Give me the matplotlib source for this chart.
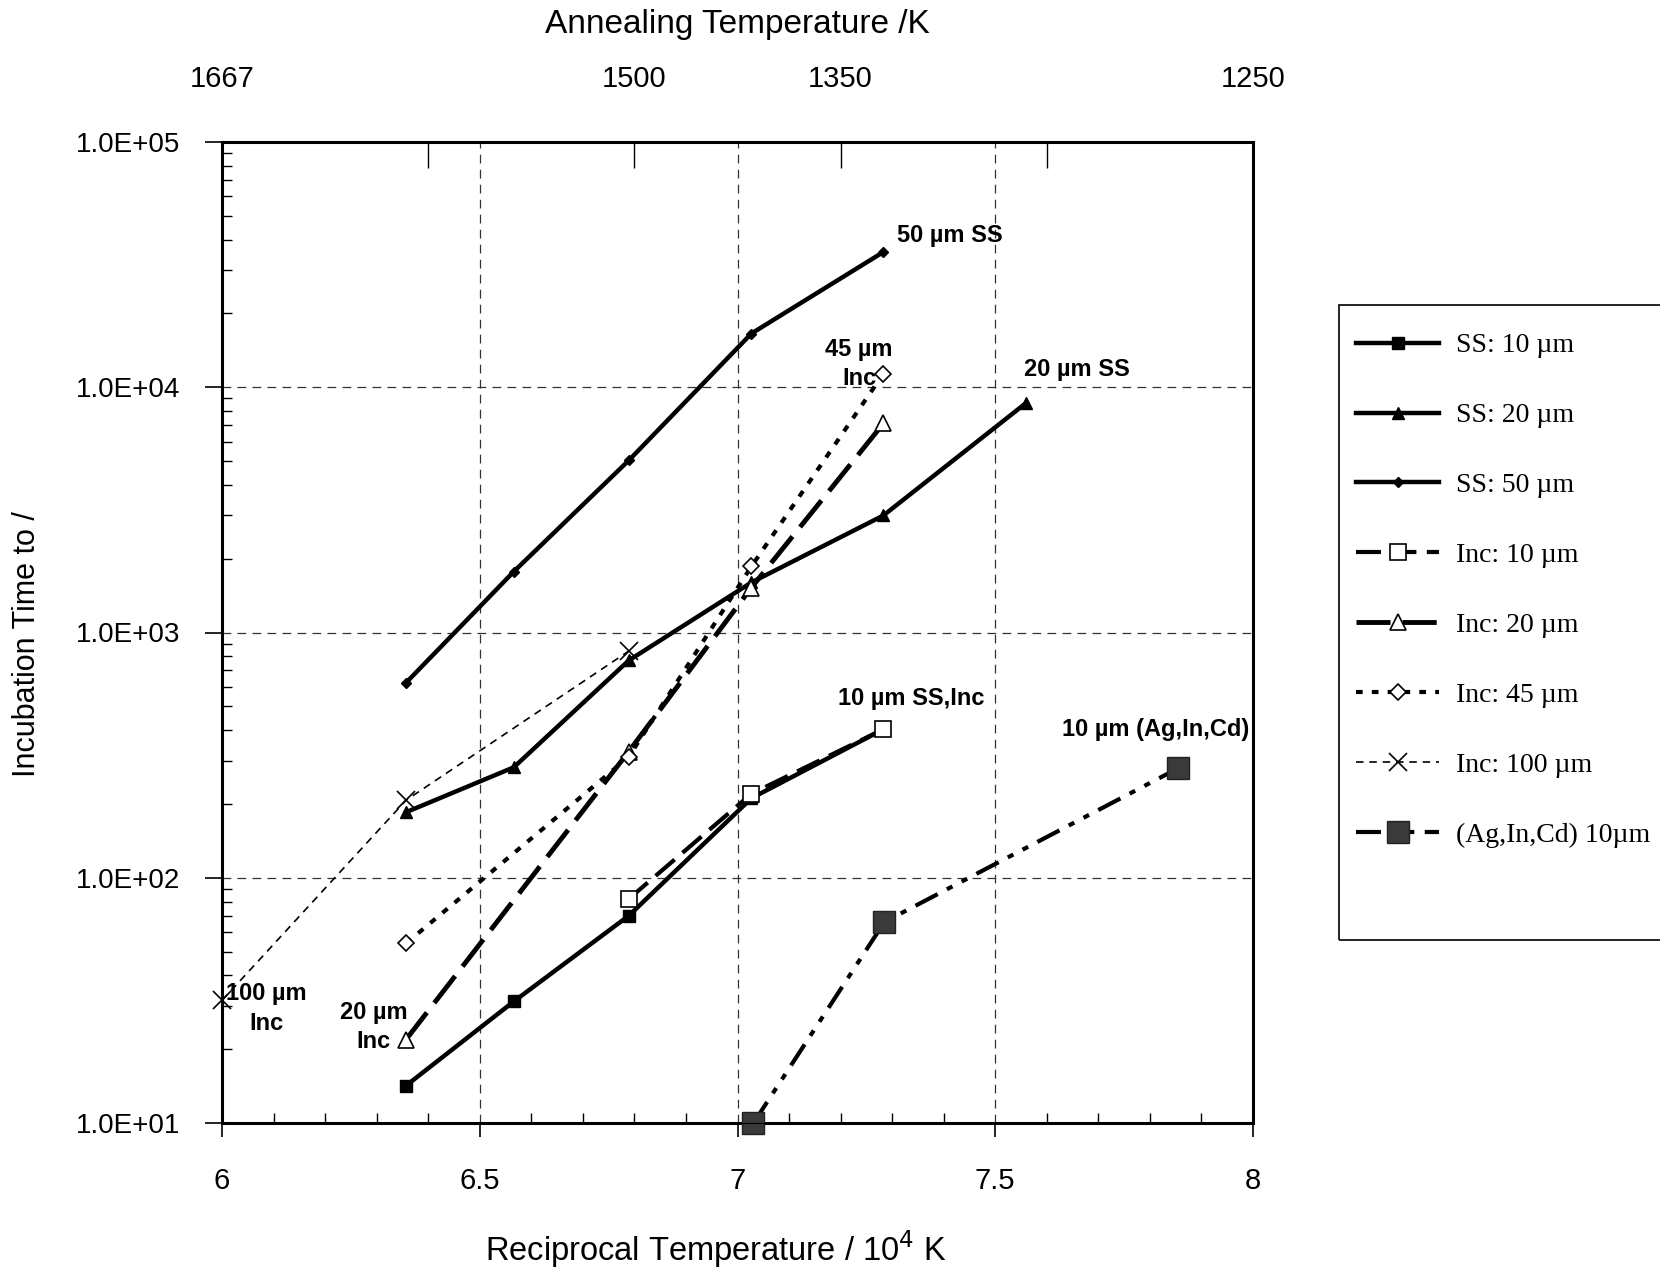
import numpy as np
import matplotlib
matplotlib.use('Agg')
import matplotlib.pyplot as plt
from matplotlib.ticker import FixedLocator, FuncFormatter, LogLocator, NullFormatter
from matplotlib.patches import Rectangle

plt.rcParams['font.family'] = ['Liberation Sans', 'DejaVu Sans']

# reciprocal temperature (10^4/K) and incubation time for each series
ss10_x = [6.357, 6.566, 6.789, 7.027, 7.283]
ss10_y = [14.2, 31.3, 70, 211, 403]
ss20_x = [6.357, 6.566, 6.789, 7.027, 7.283, 7.559]
ss20_y = [185, 282, 769, 1600, 3000, 8600]
ss50_x = [6.357, 6.566, 6.789, 7.027, 7.283]
ss50_y = [624, 1771, 5030, 16560, 35600]
inc10_x = [6.789, 7.027, 7.283]
inc10_y = [82, 220, 403]
inc20_x = [6.357, 6.789, 7.027, 7.283]
inc20_y = [21.9, 327, 1525, 7120]
inc45_x = [6.357, 6.789, 7.027, 7.283]
inc45_y = [54, 311, 1860, 11350]
inc100_x = [6.0, 6.357, 6.789]
inc100_y = [31.6, 207, 840]
aic10_x = [7.031, 7.285, 7.854]
aic10_y = [10, 66, 279]

top_ticks = [6.0, 6.4, 6.8, 7.2, 7.6, 8.0]
top_labels = ['1667', '', '1500', '1350', '', '1250']

fig = plt.figure(figsize=(16.6, 12.68), dpi=100)
ax = fig.add_axes([222/1660, 1 - 1123/1268, (1253-222)/1660, (1123-142)/1268])

ax.plot(ss10_x, ss10_y, color='k', lw=3.2, marker='s', ms=9, mfc='k', label='SS: 10 µm', zorder=5)
ax.plot(ss20_x, ss20_y, color='k', lw=3.2, marker='^', ms=9, mfc='k', label='SS: 20 µm', zorder=5)
ax.plot(ss50_x, ss50_y, color='k', lw=3.2, marker='D', ms=5, mfc='k', label='SS: 50 µm', zorder=5)
ax.plot(inc10_x, inc10_y, color='k', lw=3.0, ls=(0, (6, 2.5)), marker='s', ms=11, mfc='white',
        mew=1.2, label='Inc: 10 µm', zorder=6)
ax.plot(inc20_x, inc20_y, color='k', lw=3.5, ls=(0, (7, 2.5)), marker='^', ms=11, mfc='white',
        mew=1.2, label='Inc: 20 µm', zorder=6)
ax.plot(inc45_x, inc45_y, color='k', lw=3.0, ls=(0, (1.6, 2.2)), marker='D', ms=8, mfc='white',
        mew=1.2, label='Inc: 45 µm', zorder=6)
ax.plot(inc100_x, inc100_y, color='k', lw=1.2, ls=(0, (4.5, 3.5)), marker='x', ms=13, mew=1.2,
        label='Inc: 100 µm', zorder=6, clip_on=False)
ax.plot(aic10_x, aic10_y, color='k', lw=3.0, ls=(0, (6, 2.5, 1.5, 2.5, 1.5, 2.5)), marker='s', ms=16,
        mfc='#3a3a3a', mec='#222222', label='(Ag,In,Cd) 10µm', zorder=6, clip_on=False)

ax.set_xlim(6, 8)
ax.set_yscale('log')
ax.set_ylim(10, 1e5)

# axes ticks
ax.set_xticks([6, 6.5, 7, 7.5, 8])
ax.xaxis.set_major_formatter(FuncFormatter(lambda v, p: '%g' % v))
ax.xaxis.set_minor_locator(FixedLocator(np.arange(6.1, 8.0, 0.1)))
ax.yaxis.set_major_locator(LogLocator(base=10, numticks=10))
ax.yaxis.set_minor_locator(LogLocator(base=10, subs=np.arange(2, 10), numticks=20))
ax.yaxis.set_minor_formatter(NullFormatter())
ax.yaxis.set_major_formatter(FuncFormatter(lambda v, p: '1.0E+%02d' % round(np.log10(v))))
ax.tick_params(axis='x', which='major', direction='out', length=10, width=1.2, labelsize=21, pad=22)
ax.tick_params(axis='y', which='major', direction='out', length=12, width=1.2, labelsize=20, pad=18)
ax.tick_params(which='minor', direction='in', length=7, width=1.0)

ax.grid(True, which='major', color='#333333', lw=0.9, ls=(0, (7, 5)))
for s in ax.spines.values():
    s.set_linewidth(2.2)

# top axis: annealing temperature
top = ax.twiny()
top.set_xlim(6, 8)
top.set_xticks(top_ticks)
top.set_xticklabels(top_labels)
top.tick_params(axis='x', direction='in', length=19, width=1.0, labelsize=21, pad=35)
top.xaxis.set_minor_locator(FixedLocator([]))

fig.text(737/1660, 1 - 24/1268, 'Annealing Temperature /K', ha='center', va='center', fontsize=24)
fig.text(716/1660, 1 - 1249/1268, 'Reciprocal Temperature / 10$^{4}$ K', ha='center', va='center',
         fontsize=23.5)
fig.text(27/1660, 1 - 644/1268, 'Incubation Time to /', ha='center', va='center', rotation=90,
         fontsize=22)

# curve labels
bold = dict(fontsize=17, fontweight='bold')
ax.text(7.31, 41700, '50 µm SS', ha='left', va='center', **bold)
ax.text(7.236, 12400, '45 µm\nInc', ha='center', va='center', linespacing=1.35, **bold)
ax.text(7.556, 11800, '20 µm SS', ha='left', va='center', **bold)
ax.text(7.195, 537, '10 µm SS,Inc', ha='left', va='center', **bold)
ax.text(7.630, 403, '10 µm (Ag,In,Cd)', ha='left', va='center', **bold)
ax.text(6.086, 29.3, '100 µm\nInc', ha='center', va='center', linespacing=1.35, **bold)
ax.text(6.294, 24.7, '20 µm\nInc', ha='center', va='center', linespacing=1.35, **bold)

# legend in an open box at the right edge
fig.patches.append(Rectangle((1339/1660, 1 - 940/1268), 0.5, (940-305)/1268, transform=fig.transFigure,
                             fill=False, edgecolor='k', lw=1.2))
handles, labels = ax.get_legend_handles_labels()
fig.legend(handles, labels, loc='upper left', bbox_to_anchor=(1356/1660, 1 - 333/1268),
           frameon=False, prop={'family': 'Liberation Serif', 'size': 20}, handlelength=3.0,
           handletextpad=0.6, labelspacing=1.6, borderaxespad=0, borderpad=0)

fig.savefig('out.png', dpi=100)
